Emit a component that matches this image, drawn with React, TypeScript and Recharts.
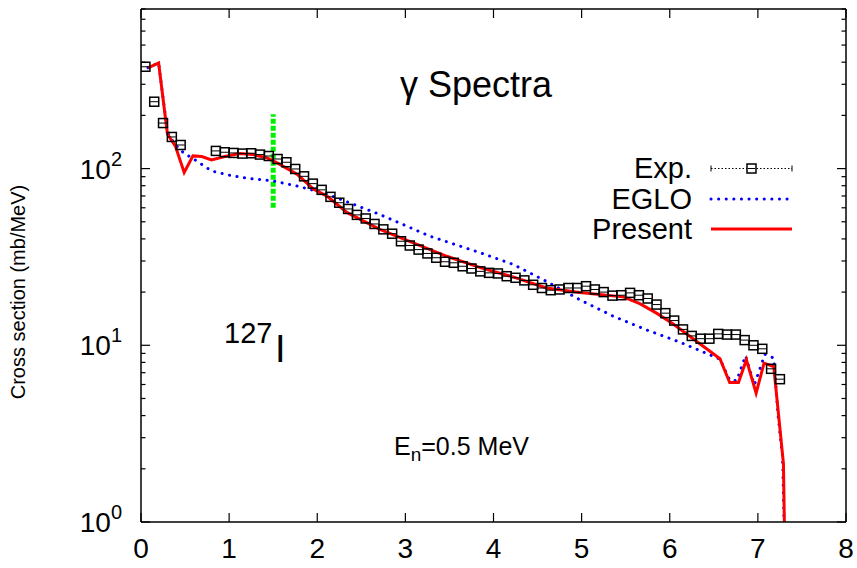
import { ComposedChart, Line, Scatter, XAxis, YAxis, ReferenceLine } from "recharts";

// gamma spectrum, 127I, En = 0.5 MeV
const expEnergy = [
  0.05, 0.15, 0.25, 0.35, 0.45,
  0.85, 0.95, 1.05, 1.15, 1.25, 1.35, 1.45, 1.55, 1.65, 1.75, 1.85, 1.95,
  2.05, 2.15, 2.25, 2.35, 2.45, 2.55, 2.65, 2.75, 2.85, 2.95,
  3.05, 3.15, 3.25, 3.35, 3.45, 3.55, 3.65, 3.75, 3.85, 3.95,
  4.05, 4.15, 4.25, 4.35, 4.45, 4.55, 4.65, 4.75, 4.85, 4.95,
  5.05, 5.15, 5.25, 5.35, 5.45, 5.55, 5.65, 5.75, 5.85, 5.95,
  6.05, 6.15, 6.25, 6.35, 6.45, 6.55, 6.65, 6.75, 6.85, 6.95,
  7.05, 7.15, 7.25
];
const expCross = [
  377, 239, 181, 151, 136,
  125.9, 123.7, 122.6, 121.6, 122.1, 120, 117.8, 113.3, 108.6, 99.5, 90.4, 82.2,
  75.8, 69.2, 64.1, 59.1, 54.7, 52.2, 48.6, 45.3, 42.8, 38.8,
  36.7, 34.8, 33.1, 31.3, 29.7, 29.3, 28.0, 27.2, 26.2, 25.7,
  25.5, 24.6, 24.1, 23.3, 22.0, 21.1, 20.5, 20.7, 21.1, 21.1,
  21.6, 20.7, 20.0, 19.1, 19.2, 19.8, 19.2, 18.4, 17.0, 15.2,
  13.8, 12.3, 11.3, 10.9, 10.9, 11.6, 11.5, 11.5, 10.7, 10.0,
  9.55, 7.36, 6.43
];

const presentEnergy = [
  0.08, 0.2, 0.3, 0.39, 0.49, 0.59, 0.69, 0.8, 0.95, 1.12, 1.27, 1.43, 1.54,
  1.66, 1.77, 1.96, 2.11, 2.34, 2.71, 3.09, 3.47, 3.85, 4.23, 4.6, 4.98,
  5.47, 5.66, 5.85, 6.04, 6.57, 6.68, 6.78, 6.87, 6.98, 7.07, 7.18, 7.29, 7.31
];
const presentCross = [
  372, 396, 157, 134, 95, 118, 117, 112, 117, 121.6, 120, 115, 108,
  100, 92.9, 76.3, 69.9, 56.3, 45.3, 38.0, 31.9, 27.5, 24.3, 21.1, 19.9,
  18.8, 17.2, 15.2, 13.2, 8.4, 6.15, 6.15, 8.28, 5.36, 7.93, 7.58, 2.14, 0.5
];

const egloEnergy = [
  0.08, 0.2, 0.3, 0.39, 0.49, 0.59, 0.8, 1.01, 1.2, 1.5, 1.77, 1.99, 2.15,
  2.71, 3.28, 3.85, 4.23, 4.6, 4.98, 5.36, 5.74, 6.12, 6.5, 6.57, 6.68,
  6.76, 6.86, 6.96, 7.08, 7.18, 7.23, 7.28, 7.31
];
const egloCross = [
  372, 396, 160, 136, 122, 114, 97, 91.6, 88.2, 85.1, 79.7, 74.6, 70.5,
  55.0, 41.4, 33.4, 28.6, 23.0, 18.1, 14.6, 12.2, 10.4, 8.63, 8.35, 6.37,
  6.3, 8.72, 5.97, 8.9, 8.46, 3.94, 2.34, 0.5
];

const xTicks = [0, 1, 2, 3, 4, 5, 6, 7, 8];
const yMajor = [1, 10, 100];
const yTicks = [1, 2, 3, 4, 5, 6, 7, 8, 9, 10, 20, 30, 40, 50, 60, 70, 80, 90, 100, 200, 300, 400, 500, 600, 700, 800];

const expData = expEnergy.map((x, i) => ({ x, y: expCross[i] }));
const presentData = presentEnergy.map((x, i) => ({ x, y: presentCross[i] }));
const egloData = egloEnergy.map((x, i) => ({ x, y: egloCross[i] }));

const FONT = "'Liberation Sans', Arial, Helvetica, sans-serif";

function BottomTick({ x, y, payload }: any) {
  return (
    <g>
      <line x1={x} x2={x} y1={y} y2={y - 9} stroke="#000" strokeWidth={1.2} />
      <text x={x} y={y + 36} textAnchor="middle" fontSize={28} fontFamily={FONT} fill="#000">
        {payload.value}
      </text>
    </g>
  );
}

function TopTick({ x, y }: any) {
  return <line x1={x} x2={x} y1={y} y2={y + 9} stroke="#000" strokeWidth={1.2} />;
}

function LeftTick({ x, y, payload }: any) {
  const major = yMajor.includes(payload.value);
  const exp = Math.round(Math.log10(payload.value));
  return (
    <g>
      <line x1={x} x2={x + (major ? 9 : 4.5)} y1={y} y2={y} stroke="#000" strokeWidth={1.2} />
      {major && (
        <text x={x - 19} y={y + 10} textAnchor="end" fontSize={28} fontFamily={FONT} fill="#000">
          10
          <tspan dy={-13} fontSize={20}>{exp}</tspan>
        </text>
      )}
    </g>
  );
}

function RightTick({ x, y, payload }: any) {
  const major = yMajor.includes(payload.value);
  return <line x1={x} x2={x - (major ? 9 : 4.5)} y1={y} y2={y} stroke="#000" strokeWidth={1.2} />;
}

function ExpMarker({ cx, cy }: any) {
  if (cx == null || cy == null) return null;
  return (
    <g>
      <rect x={cx - 4.5} y={cy - 4.5} width={9} height={9} fill="none" stroke="#000" strokeWidth={1.5} />
      <line x1={cx - 4} x2={cx + 4} y1={cy} y2={cy} stroke="#000" strokeWidth={1} />
    </g>
  );
}

function Overlay() {
  return (
    <svg
      width={857}
      height={568}
      style={{ position: "absolute", left: 0, top: 0, pointerEvents: "none" }}
      fontFamily={FONT}
    >
      <text x={476} y={97} textAnchor="middle" fontSize={36} fill="#000">
        γ Spectra
      </text>
      <text x={25} y={292} textAnchor="middle" fontSize={20} fill="#000" transform="rotate(-90 25 292)">
        Cross section (mb/MeV)
      </text>
      <text x={224} y={343} fontSize={29} fill="#000">
        127
      </text>
      <text x={275} y={362} fontSize={38} fill="#000">
        I
      </text>
      <text x={394} y={455} fontSize={25} fill="#000">
        E<tspan dy={6} fontSize={19}>n</tspan>
        <tspan dy={-6}>=0.5 MeV</tspan>
      </text>

      {/* legend */}
      <text x={692} y={178} textAnchor="end" fontSize={29} fill="#000">Exp.</text>
      <text x={692} y={209} textAnchor="end" fontSize={29} fill="#000">EGLO</text>
      <text x={692} y={239} textAnchor="end" fontSize={29} fill="#000">Present</text>
      <line x1={711} x2={792} y1={168.5} y2={168.5} stroke="#000" strokeWidth={1} strokeDasharray="1.5 2" />
      <line x1={711} x2={711} y1={165.5} y2={171.5} stroke="#000" strokeWidth={1} />
      <line x1={792} x2={792} y1={165.5} y2={171.5} stroke="#000" strokeWidth={1} />
      <rect x={747} y={164} width={9} height={9} fill="#fff" stroke="#000" strokeWidth={1.5} />
      <line x1={748} x2={755} y1={168.5} y2={168.5} stroke="#000" strokeWidth={1} />
      <line x1={711} x2={792} y1={199} y2={199} stroke="#0000ff" strokeWidth={3} strokeDasharray="0.1 7.5" strokeLinecap="round" />
      <line x1={711} x2={792} y1={229} y2={229} stroke="#ff0000" strokeWidth={3} />
    </svg>
  );
}

export default function App() {
  return (
    <div style={{ position: "absolute", left: 0, top: 0, width: 857, height: 568, background: "#fff" }}>
      <ComposedChart width={857} height={568} margin={{ top: 8, right: 10, bottom: 0, left: 0 }}>
        <XAxis
          type="number"
          dataKey="x"
          domain={[0, 8]}
          ticks={xTicks}
          interval={0}
          height={46}
          tickSize={0}
          tickMargin={0}
          tickLine={false}
          tick={<BottomTick />}
          axisLine={{ stroke: "#000", strokeWidth: 1.5 }}
          allowDataOverflow
        />
        <XAxis
          xAxisId="top"
          orientation="top"
          type="number"
          dataKey="x"
          domain={[0, 8]}
          ticks={xTicks}
          interval={0}
          height={1}
          tickSize={0}
          tickMargin={0}
          tickLine={false}
          tick={<TopTick />}
          axisLine={{ stroke: "#000", strokeWidth: 1.5 }}
          allowDataOverflow
        />
        <YAxis
          scale="log"
          domain={[1, 800]}
          ticks={yTicks}
          interval={0}
          width={141}
          tickSize={0}
          tickMargin={0}
          tickLine={false}
          tick={<LeftTick />}
          axisLine={{ stroke: "#000", strokeWidth: 1.5 }}
          allowDataOverflow
        />
        <YAxis
          yAxisId="right"
          orientation="right"
          scale="log"
          domain={[1, 800]}
          ticks={yTicks}
          interval={0}
          width={1}
          tickSize={0}
          tickMargin={0}
          tickLine={false}
          tick={<RightTick />}
          axisLine={{ stroke: "#000", strokeWidth: 1.5 }}
          allowDataOverflow
        />
        <ReferenceLine
          segment={[{ x: 1.5, y: 60 }, { x: 1.5, y: 203 }]}
          stroke="#00ee00"
          strokeWidth={5}
          strokeDasharray="5 2"
        />
        <Line
          data={egloData}
          dataKey="y"
          type="linear"
          stroke="#0000ff"
          strokeWidth={3}
          strokeDasharray="0.1 7.5"
          strokeLinecap="round"
          dot={false}
          isAnimationActive={false}
        />
        <Line
          data={presentData}
          dataKey="y"
          type="linear"
          stroke="#ff0000"
          strokeWidth={3}
          dot={false}
          isAnimationActive={false}
        />
        {/* invisible copy so the mirrored top/right axes get a scale */}
        <Line
          data={presentData}
          dataKey="y"
          xAxisId="top"
          yAxisId="right"
          stroke="none"
          dot={false}
          legendType="none"
          isAnimationActive={false}
        />
        <Scatter data={expData} dataKey="y" shape={<ExpMarker />} isAnimationActive={false} />
      </ComposedChart>
      <Overlay />
    </div>
  );
}
